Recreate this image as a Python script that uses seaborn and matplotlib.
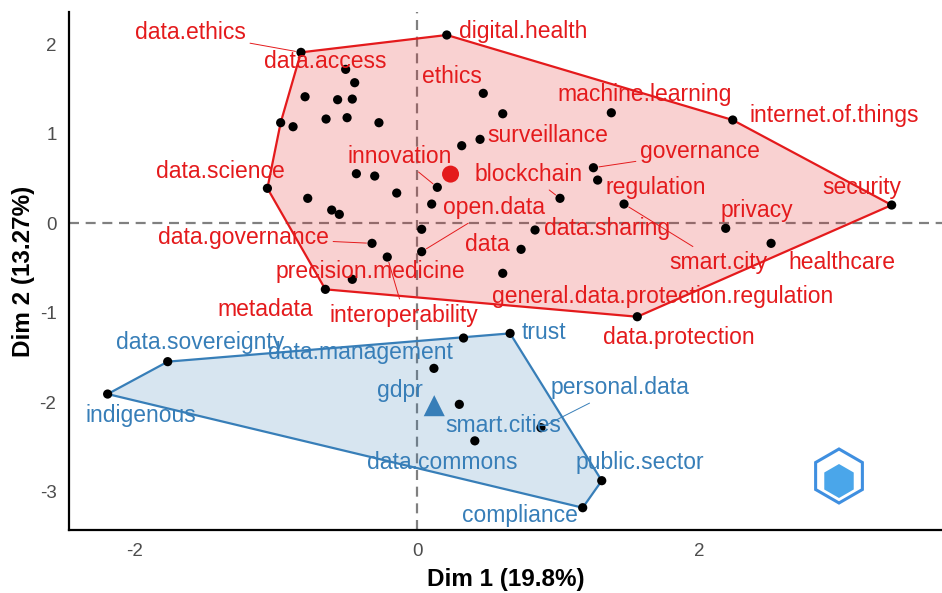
import numpy as np
import pandas as pd
import matplotlib
matplotlib.use('Agg')
import matplotlib.pyplot as plt
import matplotlib.patches as mpatches
import seaborn as sns

# word coordinates on the first two dimensions ('' = label hidden)
words = ['data.ethics', 'data.access', '', '', '', '', '', '', '', '', '',
         'digital.health', 'ethics', '', 'machine.learning', 'internet.of.things',
         '', 'surveillance', 'innovation', '', '', '', 'data.science', '', '', '',
         '', 'blockchain', 'governance', 'regulation', 'smart.city', 'security',
         'privacy', 'healthcare', 'data.sharing', 'data', '', 'open.data',
         'general.data.protection.regulation', 'data.governance', 'interoperability',
         'precision.medicine', 'metadata', 'data.protection',
         'data.sovereignty', 'indigenous', 'data.management', 'gdpr', 'trust',
         'smart.cities', 'personal.data', 'data.commons', 'public.sector', 'compliance']
dim1 = [-0.823, -0.506, -0.442, -0.794, -0.563, -0.459, -0.967, -0.879, -0.645, -0.496, -0.270,
        0.211, 0.470, 0.608, 1.378, 2.239,
        0.317, 0.447, 0.144, -0.430, -0.300, -0.144, -1.061, -0.775, -0.605, -0.551,
        0.104, 1.014, 1.251, 1.281, 1.468, 3.366,
        2.189, 2.511, 0.837, 0.738, 0.033, 0.033,
        0.608, -0.319, -0.211,
        -0.459, -0.650, 1.562,
        -1.768, -2.194, 0.330, 0.120, 0.660,
        0.300, 0.879, 0.410, 1.310, 1.175]
dim2 = [1.907, 1.717, 1.568, 1.411, 1.378, 1.385, 1.121, 1.076, 1.162, 1.177, 1.121,
        2.101, 1.449, 1.221, 1.232, 1.151,
        0.864, 0.935, 0.399, 0.551, 0.525, 0.335, 0.388, 0.276, 0.145, 0.097,
        0.212, 0.276, 0.618, 0.480, 0.212, 0.201,
        -0.059, -0.227, -0.078, -0.294, -0.070, -0.320,
        -0.562, -0.227, -0.380,
        -0.629, -0.741, -1.047,
        -1.549, -1.911, -1.285, -1.624, -1.233,
        -2.026, -2.287, -2.434, -2.879, -3.181]
cluster = [1] * 44 + [2] * 10

# label offsets from the point, in pixels (layout only)
label_offset = {
    'data.ethics': (-111, 20), 'data.access': (-20, 8), 'digital.health': (76, 4),
    'ethics': (-31, 17), 'machine.learning': (33, 18), 'internet.of.things': (102, 5),
    'surveillance': (68, 4), 'innovation': (-38, 31), 'governance': (107, 16),
    'blockchain': (-31, 24), 'regulation': (58, -7), 'security': (-30, 18),
    'data.science': (-47, 17), 'open.data': (72, 44), 'privacy': (31, 18),
    'data.sharing': (72, 2), 'data.governance': (-129, 6), 'data': (-34, 5),
    'smart.city': (94, -58), 'healthcare': (71, -19), 'precision.medicine': (18, 8),
    'general.data.protection.regulation': (160, -23), 'metadata': (-60, -20),
    'interoperability': (17, -58), 'data.protection': (42, -21),
    'trust': (34, 1), 'data.sovereignty': (32, 19), 'data.management': (-103, -14),
    'gdpr': (-34, -22), 'personal.data': (79, 40), 'indigenous': (33, -21),
    'smart.cities': (44, -21), 'data.commons': (-33, -22), 'public.sector': (38, 18),
    'compliance': (-63, -8),
}
with_segment = {'data.ethics', 'innovation', 'governance', 'blockchain', 'open.data',
                'data.governance', 'smart.city', 'interoperability', 'personal.data'}

df = pd.DataFrame({'word': words, 'Dim1': dim1, 'Dim2': dim2, 'cluster': cluster})
colors = {1: '#E41A1C', 2: '#377EB8'}


def convex_hull(pts):
    pts = sorted(map(tuple, pts))

    def cross(o, a, b):
        return (a[0] - o[0]) * (b[1] - o[1]) - (a[1] - o[1]) * (b[0] - o[0])

    lower, upper = [], []
    for p in pts:
        while len(lower) >= 2 and cross(lower[-2], lower[-1], p) <= 0:
            lower.pop()
        lower.append(p)
    for p in reversed(pts):
        while len(upper) >= 2 and cross(upper[-2], upper[-1], p) <= 0:
            upper.pop()
        upper.append(p)
    return np.array(lower[:-1] + upper[:-1])


sns.set_style('white')
plt.rcParams['font.family'] = ['Liberation Sans', 'DejaVu Sans']
plt.rcParams['axes.unicode_minus'] = False

fig = plt.figure(figsize=(9.42, 5.93), dpi=100)
ax = fig.add_axes([69 / 942, 63 / 593, (942 - 69) / 942, (530 - 12) / 593])

# reference lines
ax.axhline(0, color='#808080', lw=1.6, ls=(0, (4.5, 3)), zorder=1)
ax.axvline(0, color='#808080', lw=1.6, ls=(0, (4.5, 3)), zorder=1)

# cluster hulls
for c, sub in df.groupby('cluster'):
    hull = convex_hull(sub[['Dim1', 'Dim2']].values)
    ax.add_patch(mpatches.Polygon(hull, closed=True, facecolor=colors[c], alpha=0.2,
                                  edgecolor='none', zorder=2))
    ax.add_patch(mpatches.Polygon(hull, closed=True, facecolor='none',
                                  edgecolor=colors[c], lw=1.6, zorder=3))

# word points
sns.scatterplot(x='Dim1', y='Dim2', data=df, color='black', s=44, edgecolor='none',
                legend=False, ax=ax, zorder=4)

# cluster centroids
cent = df.groupby('cluster')[['Dim1', 'Dim2']].mean()
ax.scatter(cent.loc[1, 'Dim1'], cent.loc[1, 'Dim2'], s=150, color=colors[1],
           marker='o', edgecolor='none', zorder=5)
ax.scatter(cent.loc[2, 'Dim1'], cent.loc[2, 'Dim2'], s=230, color=colors[2],
           marker='^', edgecolor='none', zorder=5)

# labels
for _, r in df.iterrows():
    if not r['word']:
        continue
    dx, dy = label_offset[r['word']]
    col = colors[r['cluster']]
    arrow = None
    if r['word'] in with_segment:
        arrow = dict(arrowstyle='-', color=col, lw=0.7, shrinkA=1, shrinkB=4)
    ax.annotate(r['word'], xy=(r['Dim1'], r['Dim2']), xytext=(dx, dy),
                textcoords='offset pixels', ha='center', va='center',
                fontsize=16.5, color=col, arrowprops=arrow, zorder=6)

# small logo in the corner
hexagon = mpatches.RegularPolygon((8.39, 1.17), numVertices=6, radius=0.27,
                                  transform=fig.dpi_scale_trans, facecolor='white',
                                  edgecolor='#3f8fe0', lw=2.2, zorder=7)
fig.patches.append(hexagon)
inner = mpatches.RegularPolygon((8.39, 1.12), numVertices=6, radius=0.17,
                                transform=fig.dpi_scale_trans, facecolor='#4aa6ea',
                                edgecolor='none', zorder=7)
fig.patches.append(inner)

ax.set_xlim(-2.468, 3.723)
ax.set_ylim(-3.43, 2.358)
ax.set_xticks([-2, 0, 2])
ax.set_yticks([-3, -2, -1, 0, 1, 2])
ax.tick_params(length=0, labelsize=13.5, labelcolor='#4D4D4D', pad=9)
ax.set_xlabel('Dim 1 (19.8%)', fontsize=17.5, fontweight='bold', color='black', labelpad=6)
ax.set_ylabel('Dim 2 (13.27%)', fontsize=17.5, fontweight='bold', color='black', labelpad=3)

sns.despine(ax=ax)
for side in ['left', 'bottom']:
    ax.spines[side].set_color('black')
    ax.spines[side].set_linewidth(1.6)

fig.savefig('out.png', dpi=100)
